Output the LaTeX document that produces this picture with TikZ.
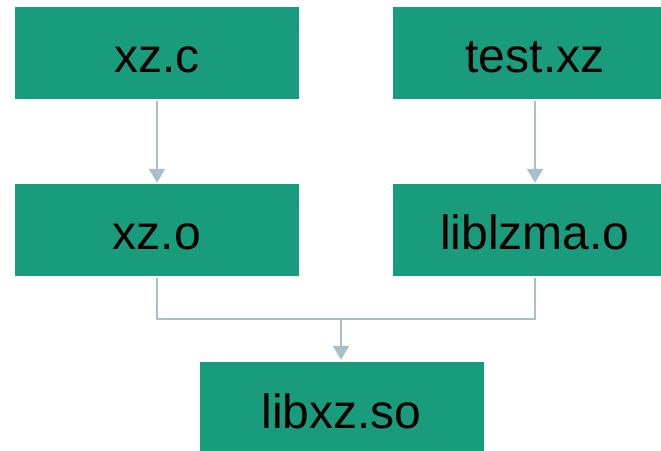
\documentclass[tikz,border=0pt]{standalone}
\usepackage{fontspec}
\setmainfont{Liberation Sans}
\usetikzlibrary{arrows.meta}
\definecolor{boxgreen}{HTML}{199C7C}
\definecolor{linkgrey}{HTML}{A9BFCC}
\tikzset{
  filebox/.style={fill=boxgreen, draw=none, inner sep=0pt, minimum height=92pt,
    minimum width=284pt, text height=38pt, text depth=0pt,
    font=\fontsize{48}{52}\selectfont, text=black},
  link/.style={draw=linkgrey, line width=2pt,
    -{Triangle[width=16pt,length=14pt]}},
  plainlink/.style={draw=linkgrey, line width=2pt}
}
\begin{document}
\begin{tikzpicture}[x=1pt,y=-1pt]
  \useasboundingbox (0,0) rectangle (661,450);
  \node[filebox] (xzc) at (157,53) {xz.c};
  \node[filebox] (testxz) at (535,53) {test.xz};
  \node[filebox] (xzo) at (157,230) {xz.o};
  \node[filebox] (liblzma) at (535,230) {liblzma.o};
  \node[filebox, minimum height=94pt, text height=39pt] (libxz) at (341.5,409) {libxz.so};
  \coordinate (joinL) at (157,319);
  \coordinate (joinR) at (535,319);
  \coordinate (joinM) at (341,319);
  \draw[link] ([yshift=-2pt]xzc.south) -- ([yshift=1pt]xzo.north);
  \draw[link] ([yshift=-2pt]testxz.south) -- ([yshift=1pt]liblzma.north);
  \draw[plainlink] ([yshift=-2pt]xzo.south) -- (joinL) -- (joinR) -- ([yshift=-2pt]liblzma.south);
  \draw[link] (joinM) -- ([xshift=-0.5pt,yshift=2pt]libxz.north);
\end{tikzpicture}
\end{document}
